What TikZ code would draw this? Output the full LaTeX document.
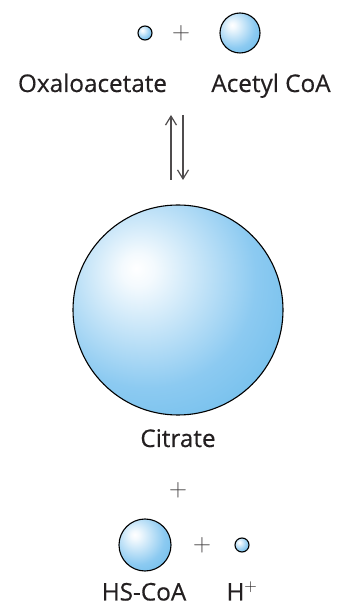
\documentclass[tikz,border=0pt]{standalone}
\usepackage{fontspec}
\setsansfont[FakeBold=0.45]{Open Sans}
\usetikzlibrary{arrows.meta}

\definecolor{sphdark}{RGB}{62,168,226}
\definecolor{sphmid}{RGB}{140,202,241}
\definecolor{inkgray}{RGB}{35,31,32}
\pgfdeclareradialshading{sphere}{\pgfpoint{-10bp}{10bp}}{color(0bp)=(white); color(4bp)=(white!90!sphmid); color(26bp)=(sphmid); color(62bp)=(sphdark); color(100bp)=(sphdark)}

\begin{document}
\begin{tikzpicture}[x=1pt,y=1pt,
    molecule/.style={circle,draw=black,line width=1.1pt,shading=sphere,inner sep=0pt,outer sep=0pt},
    label/.style={anchor=base,inner sep=0pt,text=inkgray,font=\sffamily\fontsize{24.3}{26}\selectfont},
    plus/.style={inner sep=0pt,text=inkgray!85,font=\fontsize{26}{28}\selectfont},
    eqarrow/.style={line width=1.2pt,draw=inkgray!80,-{Straight Barb[length=9pt,width=11pt,line width=1.2pt]}}]
  \useasboundingbox (0,0) rectangle (337,606);
  % substrates
  \node[molecule,minimum size=14pt] (oxa) at (145,573) {};
  \node[plus] (plusA) at (181,573) {$+$};
  \node[molecule,minimum size=40pt] (acetyl) at (240,573) {};
  \node[label] (oxalabel) at (92.5,514) {Oxaloacetate};
  \node[label] (acetyllabel) at (271,514) {Acetyl CoA};
  % equilibrium arrows
  \coordinate (eqtop) at (177,491);
  \coordinate (eqbot) at (177,426);
  \draw[eqarrow] ([xshift=-6pt]eqbot) -- ([xshift=-6pt]eqtop);
  \draw[eqarrow] ([xshift=6pt]eqtop) -- ([xshift=6pt]eqbot);
  % product
  \node[molecule,minimum size=210pt] (citrate) at (178,296) {};
  \node[label] (citratelabel) at (178,159) {Citrate};
  \node[plus] (plusB) at (178,116) {$+$};
  \node[molecule,minimum size=52pt] (hscoa) at (145,61) {};
  \node[plus] (plusC) at (202,61) {$+$};
  \node[molecule,minimum size=14pt] (proton) at (242,61) {};
  \node[label] (hscoalabel) at (144,5.5) {HS-CoA};
  \node[label] (protonlabel) at (242,5.5) {H$^{+}$};
\end{tikzpicture}
\end{document}
